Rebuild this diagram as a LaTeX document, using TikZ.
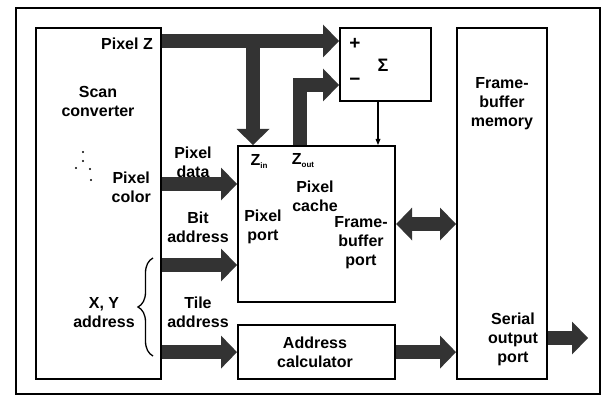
\documentclass[tikz,border=0pt]{standalone}
\usepackage{fontspec}
\setmainfont{Liberation Sans}
\usetikzlibrary{arrows.meta,decorations.pathreplacing}
\begin{document}
\begin{tikzpicture}[x=1pt,y=-1pt,
  box/.style={draw, line width=2.2pt, anchor=north west, inner sep=0pt},
  lbl/.style={font=\bfseries\fontsize{16}{19}\selectfont, align=center, inner sep=0pt},
  fat/.style={draw=black!80, line width=14pt, line join=miter,
    -{Triangle[length=16pt,width=33pt,line width=0pt]}},
  fatboth/.style={draw=black!80, line width=14pt,
    {Triangle[length=16pt,width=33pt,line width=0pt]}-{Triangle[length=16pt,width=33pt,line width=0pt]}},
  thinarrow/.style={draw, line width=1.3pt, -{Triangle[length=6pt,width=5pt,line width=0pt]}},
  dotmark/.style={fill, circle, inner sep=0pt, minimum size=2.4pt},
]
\useasboundingbox (0,0) rectangle (606,396);
% outer frame
\draw[line width=1.6pt] (16,8) rectangle (600,394);

% boxes
\node[box, minimum width=125pt, minimum height=351pt] (sc) at (35,27) {};
\node[box, minimum width=91pt, minimum height=73pt] (sig) at (339,27) {};
\node[box, minimum width=90pt, minimum height=351pt] (fb) at (456,27) {};
\node[box, minimum width=157pt, minimum height=156pt] (pc) at (237,145) {};
\node[box, minimum width=157pt, minimum height=54pt] (ac) at (237,324) {};

% helper coordinates
\coordinate (pz) at (0,41);
\coordinate (pzb) at (253,41);
\coordinate (zo) at (300,0);
\coordinate (zm) at (0,85);
\coordinate (tx) at (378,0);
\coordinate (pd) at (0,184);
\coordinate (ba) at (0,265);
\coordinate (fbp) at (0,224);
\coordinate (so) at (0,338);
\coordinate (soe) at (588,338);

% fat connectors
\draw[fat] (sc.east |- pz) -- (sig.west |- pz);
\draw[fat] (pzb) -- (pc.north -| pzb);
\draw[fat] (pc.north -| zo) |- (sig.west |- zm);
\draw[fat] (sc.east |- pd) -- (pc.west |- pd);
\draw[fat] (sc.east |- ba) -- (pc.west |- ba);
\draw[fat] (sc.east |- ac.west) -- (ac.west);
\draw[fat] (ac.east) -- (fb.west |- ac.east);
\draw[fatboth] (pc.east |- fbp) -- (fb.west |- fbp);
\draw[fat] (fb.east |- so) -- (soe);
% thin connector
\draw[thinarrow] (sig.south -| tx) -- (pc.north -| tx);

% brace
\coordinate (bb) at (153,356);
\coordinate (bt) at (153,258);
\draw[line width=1.3pt, decorate, decoration={brace, amplitude=15pt}] (bb) -- (bt);

% dots
\node[dotmark] (d1) at (83,152) {};
\node[dotmark] (d2) at (83,161) {};
\node[dotmark] (d3) at (76,168) {};
\node[dotmark] (d4) at (90,169) {};
\node[dotmark] (d5) at (91,180) {};

% labels
\node[lbl, anchor=east] (tpz) at (153,44) {Pixel Z};
\node[lbl] (tsc) at (98,101) {Scan\\converter};
\node[lbl, anchor=east] (tpcol) at (151,187) {Pixel\\color};
\node[lbl] (txy) at (104,313) {X, Y\\address};
\node[lbl] (tpd) at (193,162) {Pixel\\data};
\node[lbl] (tba) at (198,227) {Bit\\address};
\node[lbl] (tta) at (198,312) {Tile\\address};
\node[lbl] (tzin) at (259,161) {Z\raisebox{-3pt}{\fontsize{8}{8}\selectfont in}};
\node[lbl] (tzout) at (303,161) {Z\raisebox{-3pt}{\fontsize{8}{8}\selectfont out}};
\node[lbl] (tpcache) at (315,196) {Pixel\\cache};
\node[lbl] (tpport) at (263,227) {Pixel\\port};
\node[lbl] (tfbport) at (361,243) {Frame-\\buffer\\port};
\node[lbl, font=\bfseries\fontsize{19}{19}\selectfont] (tplus) at (355,44) {+};
\node[lbl, font=\bfseries\fontsize{19}{19}\selectfont] (tminus) at (355,82) {−};
\node[lbl, font=\bfseries\fontsize{18}{18}\selectfont] (tsigma) at (383,65) {Σ};
\node[lbl] (tfbm) at (502,104) {Frame-\\buffer\\memory};
\node[lbl] (tac) at (315,352) {Address\\calculator};
\node[lbl] (tso) at (513,339) {Serial\\output\\port};
\end{tikzpicture}
\end{document}
